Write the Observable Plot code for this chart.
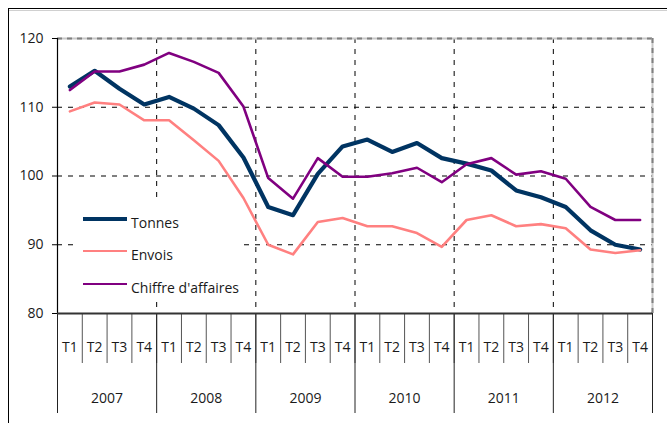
<!DOCTYPE html>
<html>
<head>
<meta charset="utf-8">
<script src="https://cdn.jsdelivr.net/npm/d3@7"></script>
<script src="https://cdn.jsdelivr.net/npm/@observablehq/plot@0.6"></script>
<style>
  html, body { margin: 0; padding: 0; background: #fff; }
  #wrap { position: relative; width: 667px; height: 423px; overflow: hidden; font-family: "Open Sans", sans-serif; }
  #frameTop { position: absolute; left: 8px; top: 8px; right: 0; height: 0; border-top: 1px solid #000; }
  #frameShadow { position: absolute; left: 9px; top: 10px; right: 0; height: 0; border-top: 1px solid #d0d0d0; }
  #frameLeft { position: absolute; left: 8px; top: 8px; bottom: 0; width: 0; border-left: 1px solid #000; }
  #legend { position: absolute; left: 75px; top: 198px; width: 167px; height: 104px; background: #fff; }
  .sw { position: absolute; left: 8px; width: 44px; }
  .lb { position: absolute; left: 56px; font-size: 14px; line-height: 18px; color: #1a1a1a; white-space: nowrap; }
</style>
</head>
<body>
<div id="wrap">
  <div id="chart"></div>
  <div id="frameTop"></div>
  <div id="frameShadow"></div>
  <div id="frameLeft"></div>
  <div id="legend"></div>
</div>
<script>
// ---- data ----
const years = ["2007", "2008", "2009", "2010", "2011", "2012"];
const quarters = ["T1", "T2", "T3", "T4"];
const seriesNames = ["Tonnes", "Envois", "Chiffre d'affaires"];
const tonnes  = [113.0, 115.3, 112.7, 110.4, 111.5, 109.8, 107.4, 102.7, 95.5, 94.3, 100.3, 104.3,
                 105.3, 103.5, 104.8, 102.6, 101.8, 100.8, 97.9, 96.9, 95.5, 92.1, 90.0, 89.3];
const envois  = [109.4, 110.7, 110.4, 108.1, 108.1, 105.2, 102.2, 96.8, 90.0, 88.6, 93.3, 93.9,
                 92.7, 92.7, 91.7, 89.7, 93.6, 94.3, 92.7, 93.0, 92.4, 89.3, 88.8, 89.2];
const chiffre = [112.5, 115.2, 115.2, 116.2, 117.9, 116.6, 115.0, 110.1, 99.7, 96.7, 102.6, 99.9,
                 99.9, 100.4, 101.2, 99.1, 101.7, 102.6, 100.2, 100.7, 99.6, 95.5, 93.6, 93.6];
const yTicks = [80, 90, 100, 110, 120];

const colors = {"Tonnes": "#003462", "Envois": "#ff8080", "Chiffre d'affaires": "#800080"};
const widths = {"Tonnes": 4.2, "Envois": 2.6, "Chiffre d'affaires": 2.6};

const n = years.length * quarters.length;
const idx = d3.range(n);
const valuesBy = {"Tonnes": tonnes, "Envois": envois, "Chiffre d'affaires": chiffre};
const rows = name => idx.map(i => ({i: i + 0.5, v: valuesBy[name][i]}));

const qBounds = d3.range(n + 1);
const yBounds = d3.range(years.length + 1).map(k => k * quarters.length);
const qCenters = idx.map(i => i + 0.5);
const yCenters = years.map((_, k) => k * quarters.length + quarters.length / 2);

const gridDash = "5,6";

const chart = Plot.plot({
  width: 667,
  height: 423,
  marginLeft: 57,
  marginRight: 15,
  marginTop: 38,
  marginBottom: 110,
  style: {fontFamily: "Open Sans, sans-serif", fontSize: "14px", background: "transparent", color: "#1a1a1a"},
  x: {type: "linear", domain: [0, n]},
  y: {domain: [80, 120]},
  marks: [
    // grid
    Plot.ruleY(yTicks.filter(t => t > 80 && t < 120), {stroke: "#000", strokeWidth: 1, strokeDasharray: gridDash}),
    Plot.ruleX(yBounds.filter(b => b > 0 && b < n), {stroke: "#000", strokeWidth: 1, strokeDasharray: gridDash}),
    // plot-area border (top & right)
    Plot.ruleY([120], {stroke: "#c8c8c8", strokeWidth: 2}),
    Plot.ruleY([120], {stroke: "#808080", strokeWidth: 2, strokeDasharray: "5,5"}),
    Plot.ruleX([n], {stroke: "#c8c8c8", strokeWidth: 2}),
    Plot.ruleX([n], {stroke: "#808080", strokeWidth: 2, strokeDasharray: "5,5"}),
    // y axis
    Plot.axisY({ticks: yTicks, tickSize: 5, tickPadding: 9, label: null, stroke: "#000", fontSize: 14}),
    Plot.ruleX([0], {stroke: "#000", strokeWidth: 1.2}),
    // x category axis
    Plot.axisX({ticks: qBounds, tickSize: 50, tickFormat: () => "", label: null, stroke: "#555"}),
    Plot.axisX({ticks: yBounds, tickSize: 100, tickFormat: () => "", label: null, stroke: "#222"}),
    Plot.axisX({ticks: qCenters, tickSize: 0, tickPadding: 29, label: null, fontSize: 14,
                tickFormat: v => quarters[Math.floor(v) % quarters.length]}),
    Plot.axisX({ticks: yCenters, tickSize: 0, tickPadding: 80, label: null, fontSize: 14,
                tickFormat: v => years[Math.floor(v / quarters.length)]}),
    Plot.ruleY([80], {stroke: "#333", strokeWidth: 2}),
    // series
    ...seriesNames.map(name => Plot.line(rows(name), {
      x: "i", y: "v", stroke: colors[name], strokeWidth: widths[name], strokeLinejoin: "round"
    }))
  ]
});
document.getElementById("chart").appendChild(chart);

// legend
const legend = document.getElementById("legend");
const legendY = [21, 53, 86];
seriesNames.forEach((name, k) => {
  const sw = document.createElement("div");
  sw.className = "sw";
  sw.style.top = (legendY[k] - widths[name] / 2) + "px";
  sw.style.height = widths[name] + "px";
  sw.style.background = colors[name];
  legend.appendChild(sw);
  const lb = document.createElement("div");
  lb.className = "lb";
  lb.style.top = (legendY[k] - 5) + "px";
  lb.textContent = name;
  legend.appendChild(lb);
});
</script>
</body>
</html>
